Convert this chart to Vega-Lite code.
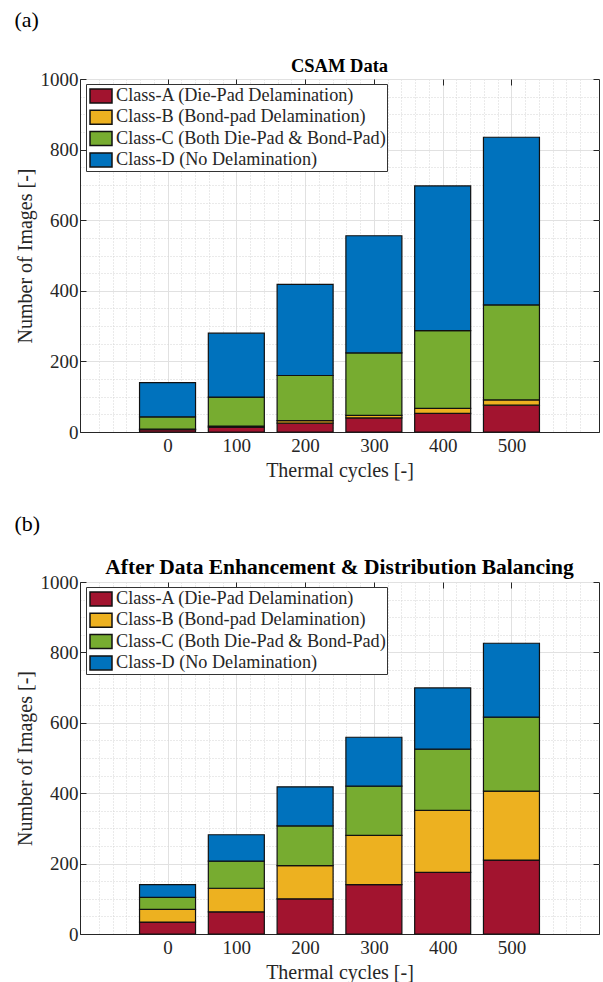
{
  "$schema": "https://vega.github.io/schema/vega-lite/v6.json",
  "padding": {"left": 14, "top": 9, "right": 0, "bottom": 0},
  "datasets": {
    "csam": [
      {"cycle": 0, "cls": "Class-A (Die-Pad Delamination)", "count": 7},
      {"cycle": 0, "cls": "Class-B (Bond-pad Delamination)", "count": 1},
      {"cycle": 0, "cls": "Class-C (Both Die-Pad & Bond-Pad)", "count": 35},
      {"cycle": 0, "cls": "Class-D (No Delamination)", "count": 97},
      {"cycle": 100, "cls": "Class-A (Die-Pad Delamination)", "count": 14},
      {"cycle": 100, "cls": "Class-B (Bond-pad Delamination)", "count": 3},
      {"cycle": 100, "cls": "Class-C (Both Die-Pad & Bond-Pad)", "count": 82},
      {"cycle": 100, "cls": "Class-D (No Delamination)", "count": 181},
      {"cycle": 200, "cls": "Class-A (Die-Pad Delamination)", "count": 25},
      {"cycle": 200, "cls": "Class-B (Bond-pad Delamination)", "count": 7},
      {"cycle": 200, "cls": "Class-C (Both Die-Pad & Bond-Pad)", "count": 128},
      {"cycle": 200, "cls": "Class-D (No Delamination)", "count": 258},
      {"cycle": 300, "cls": "Class-A (Die-Pad Delamination)", "count": 40},
      {"cycle": 300, "cls": "Class-B (Bond-pad Delamination)", "count": 7},
      {"cycle": 300, "cls": "Class-C (Both Die-Pad & Bond-Pad)", "count": 177},
      {"cycle": 300, "cls": "Class-D (No Delamination)", "count": 332},
      {"cycle": 400, "cls": "Class-A (Die-Pad Delamination)", "count": 53},
      {"cycle": 400, "cls": "Class-B (Bond-pad Delamination)", "count": 14},
      {"cycle": 400, "cls": "Class-C (Both Die-Pad & Bond-Pad)", "count": 220},
      {"cycle": 400, "cls": "Class-D (No Delamination)", "count": 410},
      {"cycle": 500, "cls": "Class-A (Die-Pad Delamination)", "count": 76},
      {"cycle": 500, "cls": "Class-B (Bond-pad Delamination)", "count": 15},
      {"cycle": 500, "cls": "Class-C (Both Die-Pad & Bond-Pad)", "count": 269},
      {"cycle": 500, "cls": "Class-D (No Delamination)", "count": 475}
    ],
    "enh": [
      {"cycle": 0, "cls": "Class-A (Die-Pad Delamination)", "count": 34},
      {"cycle": 0, "cls": "Class-B (Bond-pad Delamination)", "count": 36},
      {"cycle": 0, "cls": "Class-C (Both Die-Pad & Bond-Pad)", "count": 34},
      {"cycle": 0, "cls": "Class-D (No Delamination)", "count": 36},
      {"cycle": 100, "cls": "Class-A (Die-Pad Delamination)", "count": 63},
      {"cycle": 100, "cls": "Class-B (Bond-pad Delamination)", "count": 67},
      {"cycle": 100, "cls": "Class-C (Both Die-Pad & Bond-Pad)", "count": 77},
      {"cycle": 100, "cls": "Class-D (No Delamination)", "count": 75},
      {"cycle": 200, "cls": "Class-A (Die-Pad Delamination)", "count": 100},
      {"cycle": 200, "cls": "Class-B (Bond-pad Delamination)", "count": 94},
      {"cycle": 200, "cls": "Class-C (Both Die-Pad & Bond-Pad)", "count": 113},
      {"cycle": 200, "cls": "Class-D (No Delamination)", "count": 111},
      {"cycle": 300, "cls": "Class-A (Die-Pad Delamination)", "count": 140},
      {"cycle": 300, "cls": "Class-B (Bond-pad Delamination)", "count": 140},
      {"cycle": 300, "cls": "Class-C (Both Die-Pad & Bond-Pad)", "count": 140},
      {"cycle": 300, "cls": "Class-D (No Delamination)", "count": 139},
      {"cycle": 400, "cls": "Class-A (Die-Pad Delamination)", "count": 175},
      {"cycle": 400, "cls": "Class-B (Bond-pad Delamination)", "count": 176},
      {"cycle": 400, "cls": "Class-C (Both Die-Pad & Bond-Pad)", "count": 174},
      {"cycle": 400, "cls": "Class-D (No Delamination)", "count": 174},
      {"cycle": 500, "cls": "Class-A (Die-Pad Delamination)", "count": 210},
      {"cycle": 500, "cls": "Class-B (Bond-pad Delamination)", "count": 196},
      {"cycle": 500, "cls": "Class-C (Both Die-Pad & Bond-Pad)", "count": 210},
      {"cycle": 500, "cls": "Class-D (No Delamination)", "count": 210}
    ]
  },
  "spacing": 32,
  "resolve": {"scale": {"color": "independent"}, "legend": {"color": "independent"}},
  "vconcat": [
    {
      "title": {"text": "(a)", "anchor": "start", "fontSize": 22, "fontWeight": "normal", "offset": 24, "color": "#000"},
      "resolve": {"scale": {"color": "independent"}, "legend": {"color": "independent"}},
      "vconcat": [
        {
          "width": 519, "height": 353,
          "data": {"name": "csam"},
          "title": {"text": "CSAM Data", "fontSize": 18.5, "fontWeight": "bold", "frame": "group", "anchor": "middle", "offset": -5, "color": "#000"},
          "resolve": {"axis": {"x": "independent", "y": "independent"}},
          "layer": [
            {
              "mark": {"type": "bar", "size": 56, "stroke": "#111", "strokeWidth": 1.2},
              "encoding": {
                "x": {"field": "cycle", "type": "quantitative", "scale": {"domain": [-120, 620], "nice": false, "zero": false},
                  "axis": {"orient": "bottom", "values": [-100,-80,-60,-40,-20,0,20,40,60,80,100,120,140,160,180,200,220,240,260,280,300,320,340,360,380,400,420,440,460,480,500,520,540,560,580,600], "grid": true, "gridDash": [1, 2], "gridColor": "#d4d4d4", "labels": false, "ticks": false, "domain": false, "title": null}},
                "y": {"field": "count", "type": "quantitative", "stack": "zero", "scale": {"domain": [0, 1000], "nice": false},
                  "axis": {"orient": "left", "values": [50,100,150,200,250,300,350,400,450,500,550,600,650,700,750,800,850,900,950], "grid": true, "gridDash": [1, 2], "gridColor": "#d4d4d4", "labels": false, "ticks": false, "domain": false, "title": null}},
                "color": {"field": "cls", "type": "nominal",
                  "scale": {"domain": ["Class-A (Die-Pad Delamination)", "Class-B (Bond-pad Delamination)", "Class-C (Both Die-Pad & Bond-Pad)", "Class-D (No Delamination)"], "range": ["#A2142F", "#EDB120", "#77AC30", "#0072BD"]},
                  "legend": {"title": null, "orient": "none", "legendX": 6, "legendY": 5, "direction": "vertical", "symbolType": "M-1.1,-0.7H1.1V0.7H-1.1Z", "symbolSize": 400, "symbolOffset": 3, "symbolStrokeColor": "#111", "symbolStrokeWidth": 1.5, "symbolOpacity": 1, "labelFontSize": 18.2, "labelColor": "#262626", "labelOffset": 4, "rowPadding": 0.3, "padding": 1, "fillColor": "white", "strokeColor": "#333", "labelLimit": 400}},
                "order": {"field": "cls", "sort": "ascending"}
              }
            },
            {
              "mark": {"type": "bar", "opacity": 0},
              "encoding": {
                "x": {"field": "cycle", "type": "quantitative", "scale": {"domain": [-120, 620], "nice": false, "zero": false},
                  "axis": {"orient": "bottom", "values": [0, 100, 200, 300, 400, 500], "grid": true, "gridColor": "#e1e1e1", "tickSize": -6, "labelPadding": 10, "title": "Thermal cycles [-]", "titlePadding": 5}},
                "y": {"field": "count", "type": "quantitative", "scale": {"domain": [0, 1000], "nice": false},
                  "axis": {"orient": "left", "values": [0, 200, 400, 600, 800, 1000], "format": "d", "grid": true, "gridColor": "#e1e1e1", "tickSize": -6, "labelPadding": 8, "title": "Number of Images [-]", "titlePadding": 5}}
              }
            },
            {
              "mark": {"type": "bar", "opacity": 0},
              "encoding": {
                "x": {"field": "cycle", "type": "quantitative", "scale": {"domain": [-120, 620], "nice": false, "zero": false},
                  "axis": {"orient": "top", "values": [0, 100, 200, 300, 400, 500], "grid": false, "tickSize": -6, "labels": false, "domain": false, "title": null}},
                "y": {"field": "count", "type": "quantitative", "scale": {"domain": [0, 1000], "nice": false},
                  "axis": {"orient": "right", "values": [0, 200, 400, 600, 800, 1000], "grid": false, "tickSize": -6, "labels": false, "domain": false, "title": null}}
              }
            }
          ]
        }
      ]
    },
    {
      "title": {"text": "(b)", "anchor": "start", "fontSize": 22, "fontWeight": "normal", "offset": 20, "color": "#000"},
      "resolve": {"scale": {"color": "independent"}, "legend": {"color": "independent"}},
      "vconcat": [
        {
          "width": 519, "height": 352,
          "data": {"name": "enh"},
          "title": {"text": "After Data Enhancement & Distribution Balancing", "fontSize": 21.5, "fontWeight": "bold", "frame": "group", "anchor": "middle", "offset": -5, "color": "#000"},
          "resolve": {"axis": {"x": "independent", "y": "independent"}},
          "layer": [
            {
              "mark": {"type": "bar", "size": 56, "stroke": "#111", "strokeWidth": 1.2},
              "encoding": {
                "x": {"field": "cycle", "type": "quantitative", "scale": {"domain": [-120, 620], "nice": false, "zero": false},
                  "axis": {"orient": "bottom", "values": [-100,-80,-60,-40,-20,0,20,40,60,80,100,120,140,160,180,200,220,240,260,280,300,320,340,360,380,400,420,440,460,480,500,520,540,560,580,600], "grid": true, "gridDash": [1, 2], "gridColor": "#d4d4d4", "labels": false, "ticks": false, "domain": false, "title": null}},
                "y": {"field": "count", "type": "quantitative", "stack": "zero", "scale": {"domain": [0, 1000], "nice": false},
                  "axis": {"orient": "left", "values": [50,100,150,200,250,300,350,400,450,500,550,600,650,700,750,800,850,900,950], "grid": true, "gridDash": [1, 2], "gridColor": "#d4d4d4", "labels": false, "ticks": false, "domain": false, "title": null}},
                "color": {"field": "cls", "type": "nominal",
                  "scale": {"domain": ["Class-A (Die-Pad Delamination)", "Class-B (Bond-pad Delamination)", "Class-C (Both Die-Pad & Bond-Pad)", "Class-D (No Delamination)"], "range": ["#A2142F", "#EDB120", "#77AC30", "#0072BD"]},
                  "legend": {"title": null, "orient": "none", "legendX": 6, "legendY": 5, "direction": "vertical", "symbolType": "M-1.1,-0.7H1.1V0.7H-1.1Z", "symbolSize": 400, "symbolOffset": 3, "symbolStrokeColor": "#111", "symbolStrokeWidth": 1.5, "symbolOpacity": 1, "labelFontSize": 18.2, "labelColor": "#262626", "labelOffset": 4, "rowPadding": 0.3, "padding": 1, "fillColor": "white", "strokeColor": "#333", "labelLimit": 400}},
                "order": {"field": "cls", "sort": "ascending"}
              }
            },
            {
              "mark": {"type": "bar", "opacity": 0},
              "encoding": {
                "x": {"field": "cycle", "type": "quantitative", "scale": {"domain": [-120, 620], "nice": false, "zero": false},
                  "axis": {"orient": "bottom", "values": [0, 100, 200, 300, 400, 500], "grid": true, "gridColor": "#e1e1e1", "tickSize": -6, "labelPadding": 10, "title": "Thermal cycles [-]", "titlePadding": 5}},
                "y": {"field": "count", "type": "quantitative", "scale": {"domain": [0, 1000], "nice": false},
                  "axis": {"orient": "left", "values": [0, 200, 400, 600, 800, 1000], "format": "d", "grid": true, "gridColor": "#e1e1e1", "tickSize": -6, "labelPadding": 8, "title": "Number of Images [-]", "titlePadding": 5}}
              }
            },
            {
              "mark": {"type": "bar", "opacity": 0},
              "encoding": {
                "x": {"field": "cycle", "type": "quantitative", "scale": {"domain": [-120, 620], "nice": false, "zero": false},
                  "axis": {"orient": "top", "values": [0, 100, 200, 300, 400, 500], "grid": false, "tickSize": -6, "labels": false, "domain": false, "title": null}},
                "y": {"field": "count", "type": "quantitative", "scale": {"domain": [0, 1000], "nice": false},
                  "axis": {"orient": "right", "values": [0, 200, 400, 600, 800, 1000], "grid": false, "tickSize": -6, "labels": false, "domain": false, "title": null}}
              }
            }
          ]
        }
      ]
    }
  ],
  "config": {
    "font": "'Liberation Serif', 'Times New Roman', 'DejaVu Serif', serif",
    "view": {"stroke": "#262626", "strokeWidth": 1},
    "axis": {"labelFont": "'Liberation Serif', 'Times New Roman', 'DejaVu Serif', serif", "titleFont": "'Liberation Serif', 'Times New Roman', 'DejaVu Serif', serif", "labelColor": "#262626", "titleColor": "#262626", "labelFontSize": 19, "titleFontSize": 20, "titleFontWeight": "normal", "domainColor": "#262626", "tickColor": "#262626", "labelFlush": false, "labelOverlap": false},
    "legend": {"labelFont": "'Liberation Serif', 'Times New Roman', 'DejaVu Serif', serif"},
    "title": {"font": "'Liberation Serif', 'Times New Roman', 'DejaVu Serif', serif"}
  }
}
